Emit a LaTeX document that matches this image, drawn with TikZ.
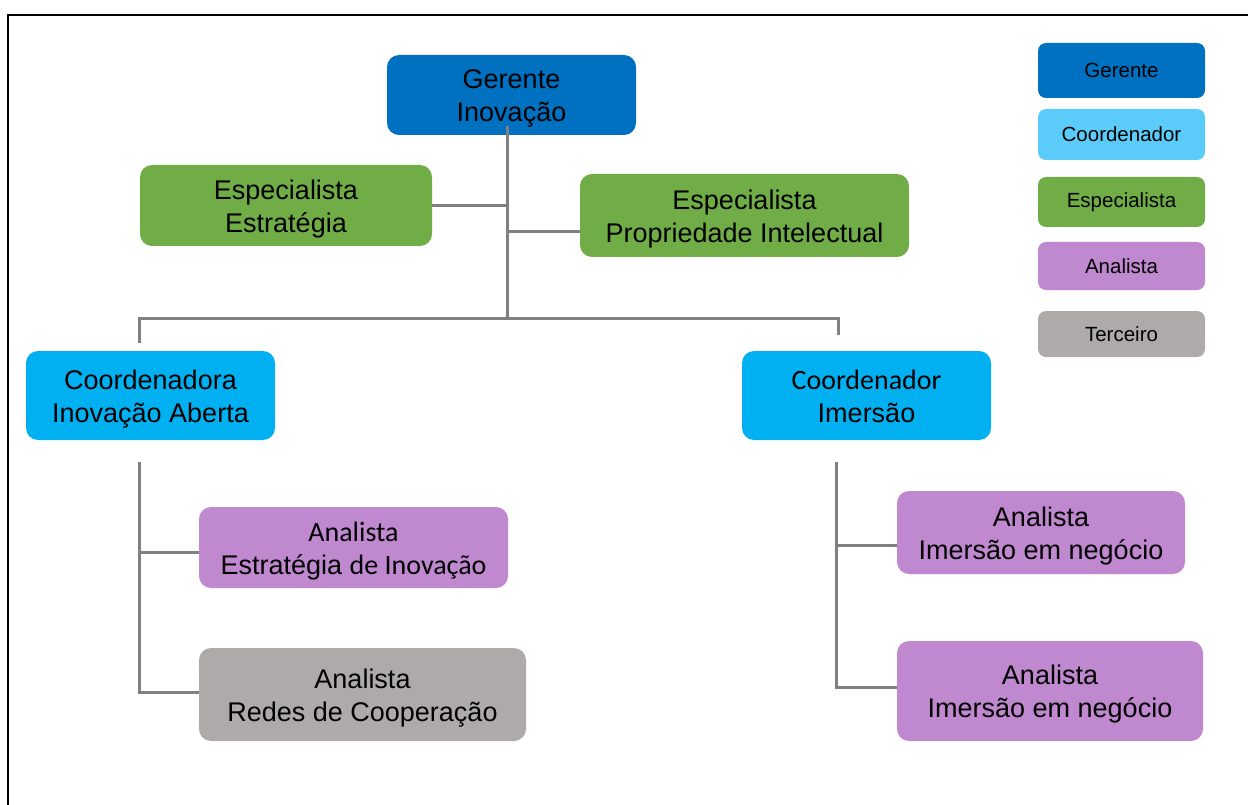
\documentclass[tikz,border=0pt]{standalone}
\usepackage{fontspec}
\setmainfont{Liberation Sans}
\newfontfamily\calfont{Carlito}
\definecolor{cger}{HTML}{0070C0}
\definecolor{ccoo}{HTML}{00B0F0}
\definecolor{ccool}{HTML}{5BCCFA}
\definecolor{cesp}{HTML}{70AD47}
\definecolor{cana}{HTML}{BF88CF}
\definecolor{cter}{HTML}{AEAAAA}
\definecolor{cline}{HTML}{808080}
\newcommand{\calt}[1]{{\calfont\fontsize{28}{33}\selectfont #1}}
\tikzset{
  box/.style={rounded corners=12pt, inner sep=0pt},
  txt/.style={align=center, inner sep=0pt, text=black, yshift=-3.5pt,
    font=\fontsize{27}{33}\selectfont},
  legbox/.style={rounded corners=8pt, align=center, inner sep=0pt, text=black,
    minimum width=167pt, font=\fontsize{20.5}{24}\selectfont},
  conn/.style={draw=cline, line width=3pt},
}
\begin{document}
\begin{tikzpicture}[x=1pt, y=-1pt]
\useasboundingbox (0,0) rectangle (1248,805);
% frame
\draw[line width=2.5pt, black] (8,812) -- (8,15) -- (1252,15);

% nodes
\node[box, fill=cger, minimum width=249pt, minimum height=80pt,
  label={[txt]center:{Gerente\\Inovação}}] (ger) at (511.5,95) {};
\node[box, fill=cesp, minimum width=292pt, minimum height=81pt,
  label={[txt]center:{Especialista\\Estratégia}}] (ee) at (286,205.5) {};
\node[box, fill=cesp, minimum width=329pt, minimum height=83pt,
  label={[txt]center:{Especialista\\Propriedade Intelectual}}] (pi) at (744.5,215.5) {};
\node[box, fill=ccoo, minimum width=249pt, minimum height=89pt,
  label={[txt]center:{Coordenadora\\Inovação Aberta}}] (coa) at (150.5,395.5) {};
\node[box, fill=ccoo, minimum width=249pt, minimum height=89pt,
  label={[txt, yshift=3pt]center:{\calt{Coordenador}\\Imersão}}] (coi) at (866.5,395.5) {};
\node[box, fill=cana, minimum width=309pt, minimum height=81pt,
  label={[txt]center:{\calt{Analista}\\Estratégia \calt{de Inovação}}}] (aei) at (353.5,547.5) {};
\node[box, fill=cter, minimum width=327pt, minimum height=93pt,
  label={[txt]center:{Analista\\Redes de Cooperação}}] (arc) at (362.5,694.5) {};
\node[box, fill=cana, minimum width=288pt, minimum height=83pt,
  label={[txt]center:{Analista\\Imersão em negócio}}] (ain1) at (1041,532.5) {};
\node[box, fill=cana, minimum width=306pt, minimum height=100pt,
  label={[txt]center:{Analista\\Imersão em negócio}}] (ain2) at (1050,691) {};

% legend
\node[legbox, fill=cger, minimum height=55pt] (lg) at (1121.5,70.5) {Gerente};
\node[legbox, fill=ccool, minimum height=51pt] (lc) at (1121.5,134.5) {Coordenador};
\node[legbox, fill=cesp, minimum height=50pt] (le) at (1121.5,202) {Especialista};
\node[legbox, fill=cana, minimum height=48pt] (la) at (1121.5,266) {Analista};
\node[legbox, fill=cter, minimum height=46pt] (lt) at (1121.5,334) {Terceiro};

% connector coordinates
\coordinate (ttop) at (507,126);
\coordinate (tbus) at (507,318);
\coordinate (busl) at (139,318);
\coordinate (busr) at (838,318);
\coordinate (dropl) at (139,343);
\coordinate (dropr) at (838,335);
\coordinate (lcol0) at (139,462);
\coordinate (lcol1) at (139,692);
\coordinate (rcol0) at (836,462);
\coordinate (rcol1) at (836,687);

% connectors
\draw[conn] (ttop) -- (tbus);
\draw[conn] (ee.east) -- (ee.east -| ttop);
\draw[conn] (ttop |- 0,232) -- (pi.west |- 0,232);
\draw[conn] (dropl) -- (busl) -- (busr) -- (dropr);
\draw[conn] (lcol0) -- (lcol1) -- (arc.west |- lcol1);
\draw[conn] (lcol0 |- 0,552) -- (aei.west |- 0,552);
\draw[conn] (rcol0) -- (rcol1) -- (ain2.west |- rcol1);
\draw[conn] (rcol0 |- 0,545) -- (ain1.west |- 0,545);
\end{tikzpicture}
\end{document}
